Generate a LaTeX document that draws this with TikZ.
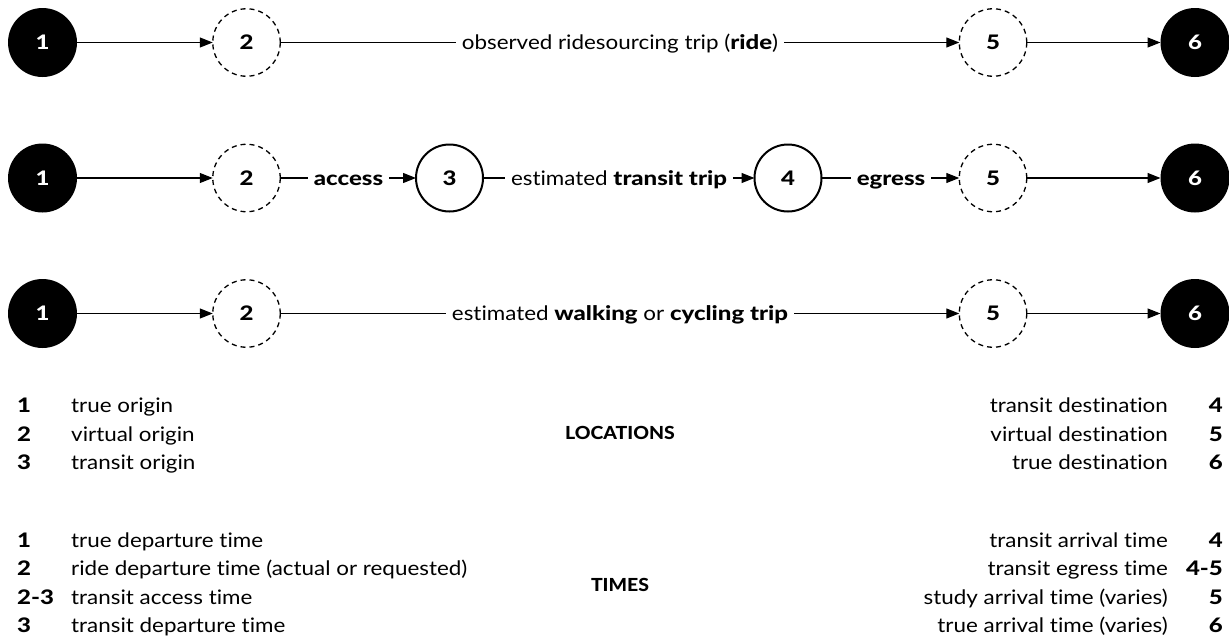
\documentclass[tikz,border=0pt]{standalone}
\usepackage{fontspec}
\setmainfont{Lato}[FakeStretch=1.12, Ligatures=NoCommon, BoldFont={Lato Heavy}, BoldFeatures={FakeStretch=1.2}]
\newfontfamily\headfont{Lato Heavy}[FakeStretch=1.08]
\usetikzlibrary{arrows.meta}
\begin{document}
\begin{tikzpicture}[x=1pt,y=-1pt,
  txt/.style={font=\fontsize{20}{24}\selectfont, text height=14.3pt, text depth=0pt},
  endpt/.style={circle, fill=black, text=white, minimum size=69pt, inner sep=0pt, outer sep=0pt, txt, font=\fontsize{20}{24}\selectfont\bfseries},
  virt/.style={circle, draw, dash pattern=on 5pt off 4pt, line width=1.3pt, minimum size=67.5pt, inner sep=0pt, outer sep=0pt, txt, font=\fontsize{20}{24}\selectfont\bfseries},
  transit/.style={circle, draw, line width=2pt, minimum size=67pt, inner sep=0pt, outer sep=0pt, txt, font=\fontsize{20}{24}\selectfont\bfseries},
  lbl/.style={txt, inner xsep=6pt, inner ysep=0pt, outer sep=0pt},
  link/.style={line width=1.3pt},
  flow/.style={line width=1.3pt, -{Triangle[length=13pt,width=10pt]}},
  keynum/.style={txt, inner sep=0pt, font=\fontsize{20}{24}\selectfont\bfseries},
  keytxt/.style={txt, inner sep=0pt},
  heading/.style={inner sep=0pt, font=\fontsize{18}{22}\headfont, text height=13pt, text depth=0pt}
]
\useasboundingbox (0,0) rectangle (1229,640);

% observed ride
\node[endpt] (a1) at (42.5,42.5) {1};
\node[virt] (a2) at (246.5,42.5) {2};
\node[lbl] (aride) at (620,42.5) {observed ridesourcing trip (\textbf{ride})};
\node[virt] (a5) at (993,42.5) {5};
\node[endpt] (a6) at (1195,42.5) {6};
\draw[flow] (a1) -- (a2);
\draw[link] (a2) -- (aride);
\draw[flow] (aride) -- (a5);
\draw[flow] (a5) -- (a6);

% transit alternative
\node[endpt] (b1) at (42.5,178) {1};
\node[virt] (b2) at (246.5,178) {2};
\node[lbl] (bacc) at (348.5,178) {\textbf{access}};
\node[transit] (b3) at (449.5,178) {3};
\node[lbl] (btrip) at (619,178) {estimated \textbf{transit trip}};
\node[transit] (b4) at (788,178) {4};
\node[lbl] (begr) at (891,178) {\textbf{egress}};
\node[virt] (b5) at (993,178) {5};
\node[endpt] (b6) at (1195,178) {6};
\draw[flow] (b1) -- (b2);
\draw[link] (b2) -- (bacc);
\draw[flow] (bacc) -- (b3);
\draw[link] (b3) -- (btrip);
\draw[flow] (btrip) -- (b4);
\draw[link] (b4) -- (begr);
\draw[flow] (begr) -- (b5);
\draw[flow] (b5) -- (b6);

% active-mode alternative
\node[endpt] (c1) at (42.5,313.5) {1};
\node[virt] (c2) at (246.5,313.5) {2};
\node[lbl] (cact) at (620,313.5) {estimated \textbf{walking} or \textbf{cycling trip}};
\node[virt] (c5) at (993,313.5) {5};
\node[endpt] (c6) at (1195,313.5) {6};
\draw[flow] (c1) -- (c2);
\draw[link] (c2) -- (cact);
\draw[flow] (cact) -- (c5);
\draw[flow] (c5) -- (c6);

% key: locations
\node[heading] (hloc) at (620,433) {LOCATIONS};
\node[keynum, anchor=west] (ln1) at (17,405.5) {1};
\node[keytxt, anchor=west] (lt1) at (71,405.5) {true origin};
\node[keynum, anchor=west] (ln2) at (17,434) {2};
\node[keytxt, anchor=west] (lt2) at (71,434) {virtual origin};
\node[keynum, anchor=west] (ln3) at (17,462.5) {3};
\node[keytxt, anchor=west] (lt3) at (71,462.5) {transit origin};
\node[keynum, anchor=east] (rn4) at (1223,405.5) {4};
\node[keytxt, anchor=east] (rt4) at (1168,405.5) {transit destination};
\node[keynum, anchor=east] (rn5) at (1223,434) {5};
\node[keytxt, anchor=east] (rt5) at (1168,434) {virtual destination};
\node[keynum, anchor=east] (rn6) at (1223,462.5) {6};
\node[keytxt, anchor=east] (rt6) at (1168,462.5) {true destination};

% key: times
\node[heading] (htim) at (620,585) {TIMES};
\node[keynum, anchor=west] (tn1) at (17,540) {1};
\node[keytxt, anchor=west] (tt1) at (71,540) {true departure time};
\node[keynum, anchor=west] (tn2) at (17,568.5) {2};
\node[keytxt, anchor=west] (tt2) at (71,568.5) {ride departure time (actual or requested)};
\node[keynum, anchor=west] (tn23) at (17,597) {2-3};
\node[keytxt, anchor=west] (tt23) at (71,597) {transit access time};
\node[keynum, anchor=west] (tn3) at (17,625.5) {3};
\node[keytxt, anchor=west] (tt3) at (71,625.5) {transit departure time};
\node[keynum, anchor=east] (sn4) at (1223,540) {4};
\node[keytxt, anchor=east] (st4) at (1168,540) {transit arrival time};
\node[keynum, anchor=east] (sn45) at (1223,568.5) {4-5};
\node[keytxt, anchor=east] (st45) at (1168,568.5) {transit egress time};
\node[keynum, anchor=east] (sn5) at (1223,597) {5};
\node[keytxt, anchor=east] (st5) at (1168,597) {study arrival time (varies)};
\node[keynum, anchor=east] (sn6) at (1223,625.5) {6};
\node[keytxt, anchor=east] (st6) at (1168,625.5) {true arrival time (varies)};
\end{tikzpicture}
\end{document}
